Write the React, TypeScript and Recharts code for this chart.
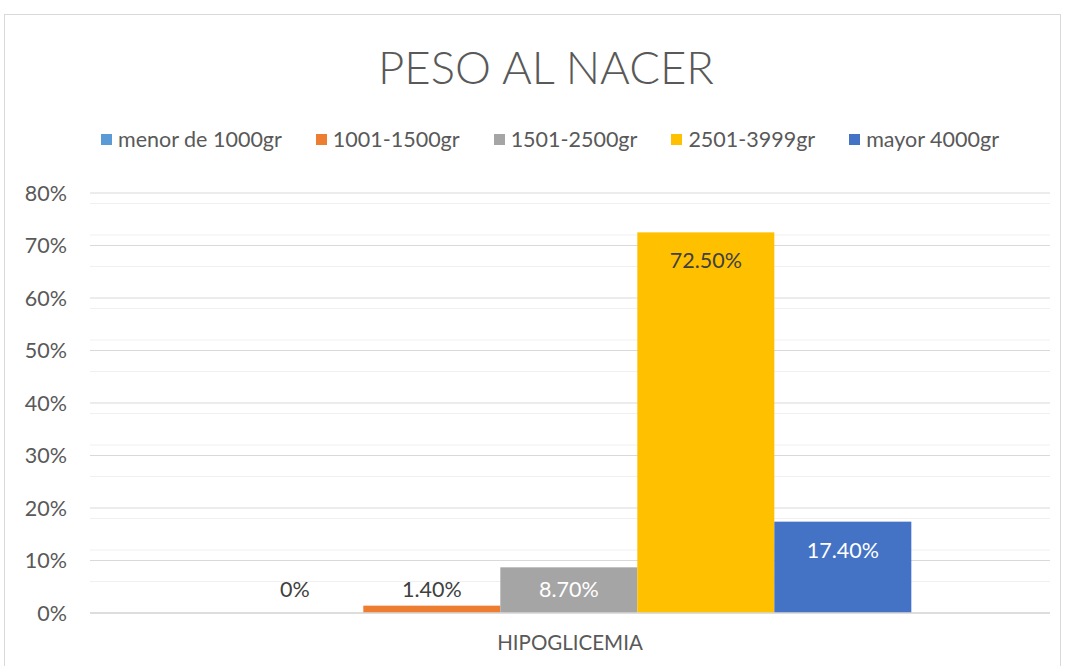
import React from "react";
import {
  Bar,
  BarChart,
  CartesianGrid,
  LabelList,
  Legend,
  XAxis,
  YAxis,
} from "recharts";

const categories = ["HIPOGLICEMIA"];
const seriesNames = ["menor de 1000gr", "1001-1500gr", "1501-2500gr", "2501-3999gr", "mayor 4000gr"];
const seriesValues = [0, 1.4, 8.7, 72.5, 17.4];
const seriesLabels = ["0%", "1.40%", "8.70%", "72.50%", "17.40%"];
const seriesColors = ["#5B9BD5", "#ED7D31", "#A5A5A5", "#FFC000", "#4472C4"];
const labelColors = ["#404040", "#404040", "#ffffff", "#404040", "#ffffff"];
const yTicks = [0, 10, 20, 30, 40, 50, 60, 70, 80];
const minorTicks = [2, 4, 6, 8, 12, 14, 16, 18, 22, 24, 26, 28, 32, 34, 36, 38, 42, 44, 46, 48, 52, 54, 56, 58, 62, 64, 66, 68, 72, 74, 76, 78];

const data = categories.map((name) => {
  const row: any = { name };
  seriesNames.forEach((s, i) => (row[s] = seriesValues[i]));
  return row;
});

const FONT = "Lato, 'Open Sans', sans-serif";

function makeLabel(i: number) {
  return (props: any) => {
    const { x, y, width, height } = props;
    const base = y + height;
    const cy = Math.min(y + 28, base - 24);
    return (
      <text
        x={x + width / 2}
        y={cy}
        textAnchor="middle"
        dominantBaseline="central"
        fontSize={21.5}
        fontFamily={FONT}
        fill={labelColors[i]}
      >
        {seriesLabels[i]}
      </text>
    );
  };
}

// zero-valued bars keep a 1px slot so their label is still drawn, but paint nothing
const BarShape = (props: any) => {
  const { x, y, width, height, fill, value } = props;
  const v = Array.isArray(value) ? value[1] - value[0] : value;
  if (!v) return <g />;
  return <rect x={x} y={y} width={width} height={height} fill={fill} />;
};

const LegendContent = () => (
  <div
    style={{
      display: "flex",
      justifyContent: "center",
      gap: 34,
      fontFamily: FONT,
      fontSize: 21.5,
      color: "#595959",
      paddingLeft: 34,
    }}
  >
    {seriesNames.map((s, i) => (
      <div key={s} style={{ display: "flex", alignItems: "center", gap: 6 }}>
        <span style={{ width: 11, height: 11, background: seriesColors[i], display: "inline-block" }} />
        <span>{s}</span>
      </div>
    ))}
  </div>
);

export default function App() {
  return (
    <div style={{ position: "fixed", left: 0, top: 0, width: 1066, height: 666, background: "#fff", overflow: "hidden" }}>
      <div
        style={{
          position: "absolute",
          left: 4,
          top: 14,
          width: 1057,
          height: 700,
          border: "1px solid #d9d9d9",
          boxSizing: "border-box",
        }}
      />
      <div
        style={{
          position: "absolute",
          left: 0,
          top: 39,
          width: 1092,
          textAlign: "center",
          fontFamily: FONT,
          fontWeight: 300,
          fontSize: 45.5,
          color: "#595959",
        }}
      >
        PESO AL NACER
      </div>
      <div style={{ position: "absolute", left: 0, top: 0 }}>
        <BarChart
          width={1066}
          height={666}
          data={data}
          margin={{ top: 167, right: 16, bottom: 0, left: 30 }}
          barCategoryGap="14.2%"
          barGap={0}
        >
          <CartesianGrid vertical={false} stroke="#f0f0f0" horizontalValues={minorTicks} />
          <CartesianGrid vertical={false} stroke="#d9d9d9" horizontalValues={yTicks} />
          <XAxis
            dataKey="name"
            height={53}
            tickSize={0}
            tickMargin={22}
            axisLine={{ stroke: "#d9d9d9", strokeWidth: 1.5 }}
            tick={{ fill: "#595959", fontSize: 20.5, fontFamily: FONT }}
          />
          <YAxis
            width={60}
            domain={[0, 80]}
            ticks={yTicks}
            tickFormatter={(v) => `${v}%`}
            tickSize={0}
            tickMargin={23}
            axisLine={false}
            tick={{ fill: "#595959", fontSize: 21.5, fontFamily: FONT }}
          />
          <Legend
            verticalAlign="top"
            content={<LegendContent />}
            wrapperStyle={{ position: "absolute", top: 126, left: 0, width: 1066 }}
          />
          {seriesNames.map((s, i) => (
            <Bar
              key={s}
              dataKey={s}
              fill={seriesColors[i]}
              minPointSize={1}
              shape={BarShape}
              isAnimationActive={false}
            >
              <LabelList dataKey={s} content={makeLabel(i)} />
            </Bar>
          ))}
        </BarChart>
      </div>
    </div>
  );
}
